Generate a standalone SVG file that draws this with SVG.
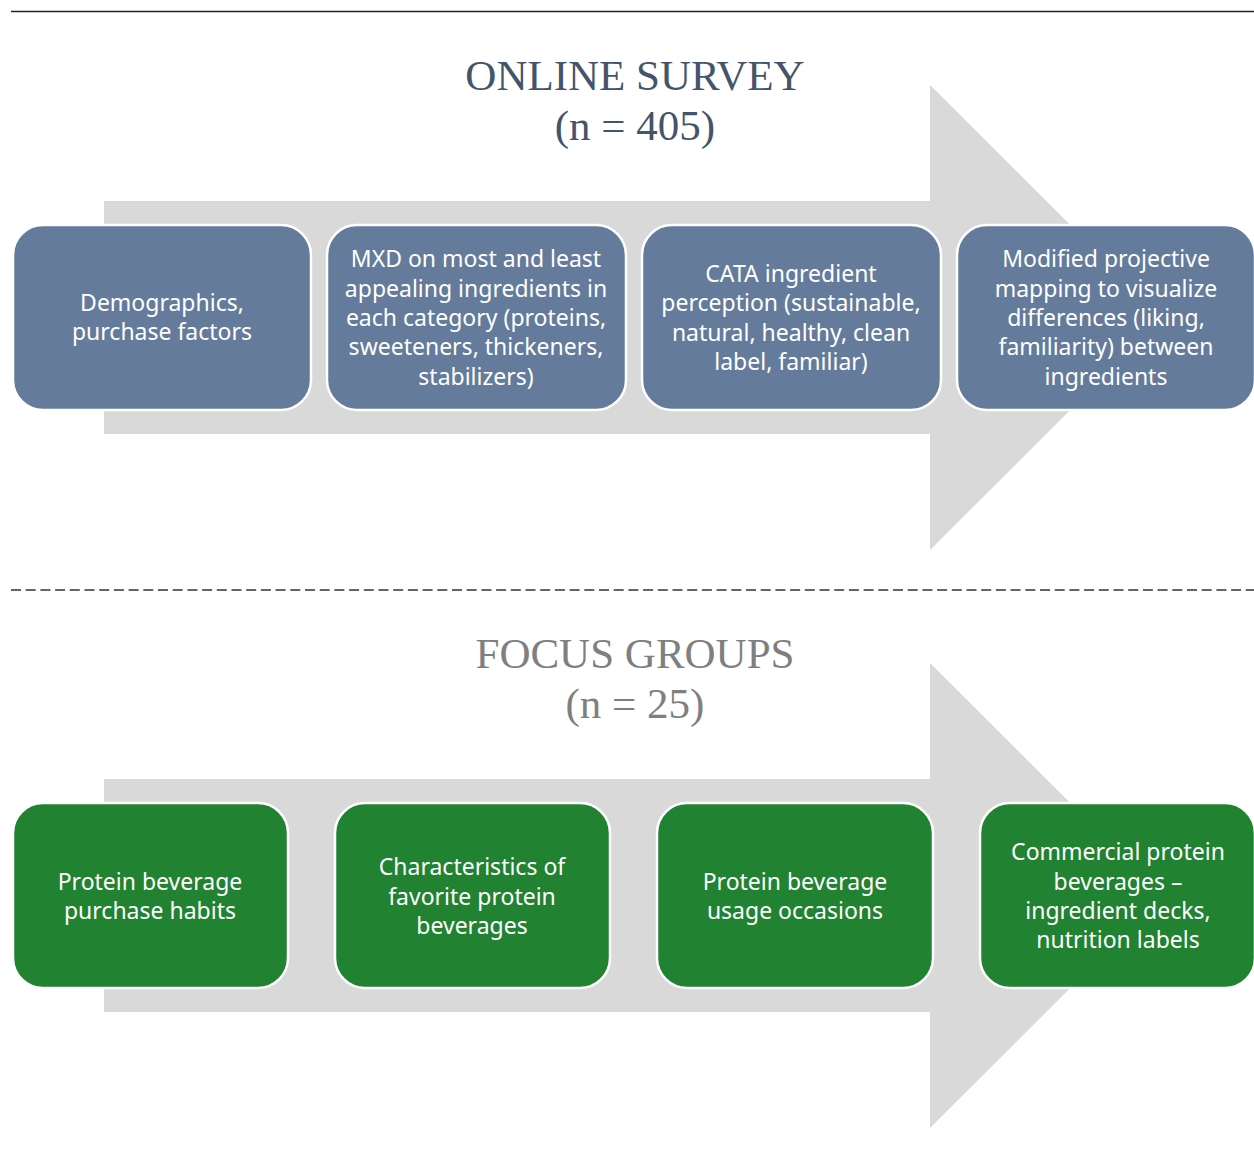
<svg xmlns="http://www.w3.org/2000/svg" width="1254" height="1158" viewBox="0 0 1254 1158">
  <style>
    .arrow { fill: #d9d9d9; }
    .box { stroke: #ffffff; stroke-width: 2.5; }
    .survey { fill: #647b9b; }
    .focus { fill: #218231; }
    .label { font-family: "Noto Sans", "Open Sans", sans-serif; font-size: 23px; fill: #ffffff; text-anchor: middle; dominant-baseline: central; }
    .title { font-family: "Liberation Serif", serif; font-size: 43px; text-anchor: middle; }
  </style>
  <rect width="1254" height="1158" fill="#ffffff"/>

  <!-- separators -->
  <line x1="11" y1="11.5" x2="1254" y2="11.5" stroke="#222" stroke-width="1.5"/>
  <line x1="11" y1="590" x2="1254" y2="590" stroke="#333" stroke-width="1.5" stroke-dasharray="10 4.7"/>

  <!-- online survey -->
  <g id="survey-title" class="title" fill="#44546a">
    <text x="635" y="90">ONLINE SURVEY</text>
    <text x="635" y="140">(n = 405)</text>
  </g>
  <g id="survey-arrow">
    <polygon class="arrow" points="104,201 930,201 930,85 1163,317.5 930,550 930,434 104,434"/>
  </g>
  <g id="s1">
    <rect class="box survey" x="13" y="225" width="298" height="185" rx="30"/>
    <text class="label"><tspan x="162" y="302">Demographics,</tspan><tspan x="162" y="331">purchase factors</tspan></text>
  </g>
  <g id="s2">
    <rect class="box survey" x="327" y="225" width="299" height="185" rx="30"/>
    <text class="label"><tspan x="476" y="258">MXD on most and least</tspan><tspan x="476" y="288">appealing ingredients in</tspan><tspan x="476" y="317">each category (proteins,</tspan><tspan x="476" y="346">sweeteners, thickeners,</tspan><tspan x="476" y="376">stabilizers)</tspan></text>
  </g>
  <g id="s3">
    <rect class="box survey" x="642" y="225" width="299" height="185" rx="30"/>
    <text class="label"><tspan x="791" y="273">CATA ingredient</tspan><tspan x="791" y="302">perception (sustainable,</tspan><tspan x="791" y="332">natural, healthy, clean</tspan><tspan x="791" y="361">label, familiar)</tspan></text>
  </g>
  <g id="s4">
    <rect class="box survey" x="957" y="225" width="298" height="185" rx="30"/>
    <text class="label"><tspan x="1106" y="258">Modified projective</tspan><tspan x="1106" y="288">mapping to visualize</tspan><tspan x="1106" y="317">differences (liking,</tspan><tspan x="1106" y="346">familiarity) between</tspan><tspan x="1106" y="376">ingredients</tspan></text>
  </g>

  <!-- focus groups -->
  <g id="focus-title" class="title" fill="#7f7f7f">
    <text x="635" y="668">FOCUS GROUPS</text>
    <text x="635" y="718">(n = 25)</text>
  </g>
  <g id="focus-arrow">
    <polygon class="arrow" points="104,779 930,779 930,663 1163,895.5 930,1128 930,1012 104,1012"/>
  </g>
  <g id="f1">
    <rect class="box focus" x="13" y="803" width="275" height="185" rx="30"/>
    <text class="label"><tspan x="150" y="881">Protein beverage</tspan><tspan x="150" y="910">purchase habits</tspan></text>
  </g>
  <g id="f2">
    <rect class="box focus" x="335" y="803" width="275" height="185" rx="30"/>
    <text class="label"><tspan x="472" y="866">Characteristics of</tspan><tspan x="472" y="896">favorite protein</tspan><tspan x="472" y="925">beverages</tspan></text>
  </g>
  <g id="f3">
    <rect class="box focus" x="657" y="803" width="276" height="185" rx="30"/>
    <text class="label"><tspan x="795" y="881">Protein beverage</tspan><tspan x="795" y="910">usage occasions</tspan></text>
  </g>
  <g id="f4">
    <rect class="box focus" x="980" y="803" width="275" height="185" rx="30"/>
    <text class="label"><tspan x="1118" y="851">Commercial protein</tspan><tspan x="1118" y="881">beverages –</tspan><tspan x="1118" y="910">ingredient decks,</tspan><tspan x="1118" y="939">nutrition labels</tspan></text>
  </g>
</svg>
